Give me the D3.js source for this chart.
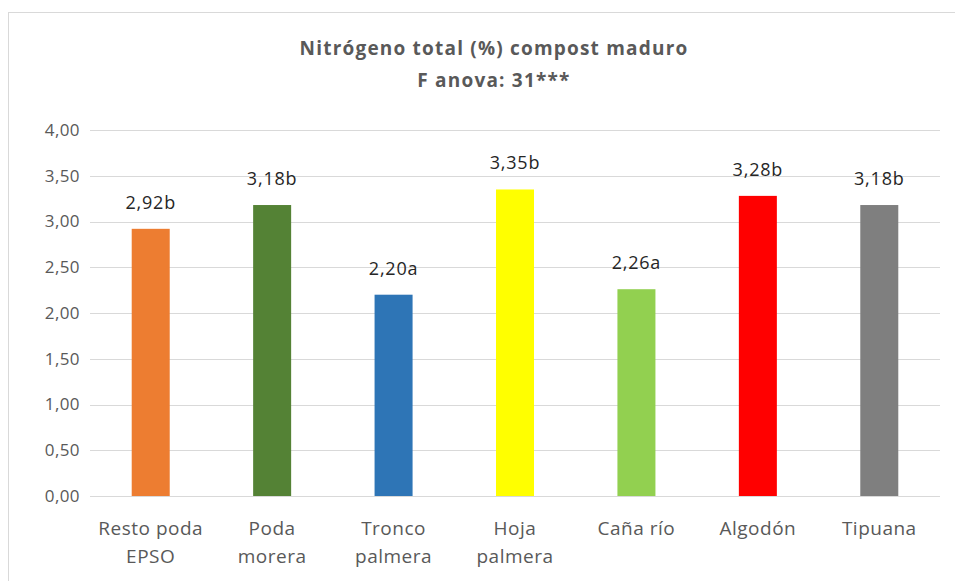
<!DOCTYPE html>
<html>
<head>
<meta charset="utf-8">
<script src="https://cdn.jsdelivr.net/npm/d3@7"></script>
<style>
  body { margin: 0; background: #fff; }
  text { font-family: "Open Sans", "Liberation Sans", sans-serif; }
</style>
</head>
<body>
<div id="chart"></div>
<script>
// data
var categories = [["Resto poda", "EPSO"], ["Poda", "morera"], ["Tronco", "palmera"], ["Hoja", "palmera"], ["Caña río"], ["Algodón"], ["Tipuana"]];
var values = [2.92, 3.18, 2.20, 3.35, 2.26, 3.28, 3.18];
var letters = ["b", "b", "a", "b", "a", "b", "b"];
var colors = ["#ED7D31", "#548235", "#2E75B6", "#FFFF00", "#92D050", "#FF0000", "#7F7F7F"];
var yTicks = [0, 0.5, 1, 1.5, 2, 2.5, 3, 3.5, 4];

var W = 955, H = 581;
var margin = {top: 130, right: 15, bottom: 85, left: 90},
    width = 940 - margin.left,
    height = 496 - margin.top;

var svg = d3.select("#chart")
  .append("svg")
    .attr("width", W)
    .attr("height", H);

// chart border
svg.append("rect")
  .attr("x", 8.5).attr("y", 12.5)
  .attr("width", 960).attr("height", 600)
  .attr("fill", "#fff")
  .attr("stroke", "#d9d9d9")
  .attr("stroke-width", 1);

// title
svg.append("text")
  .attr("x", 494).attr("y", 55)
  .attr("text-anchor", "middle")
  .attr("font-size", "19px").attr("font-weight", "bold")
  .attr("letter-spacing", "1.2px")
  .attr("fill", "#595959")
  .text("Nitrógeno total (%) compost maduro");
svg.append("text")
  .attr("x", 494).attr("y", 87)
  .attr("text-anchor", "middle")
  .attr("font-size", "19px").attr("font-weight", "bold")
  .attr("letter-spacing", "1.2px")
  .attr("fill", "#595959")
  .text("F anova:  31***");

var g = svg.append("g")
  .attr("transform", "translate(" + margin.left + "," + margin.top + ")");

var x = d3.scaleBand()
  .range([0, width])
  .domain(d3.range(values.length))
  .paddingInner(0.687)
  .paddingOuter(0.3435);

var y = d3.scaleLinear()
  .domain([0, 4])
  .range([height, 0]);

var fmt = function(v) { return d3.format(".2f")(v).replace(".", ","); };

// gridlines
g.selectAll(".grid")
  .data(yTicks)
  .enter().append("line")
    .attr("x1", 0).attr("x2", width)
    .attr("y1", function(d) { return Math.round(y(d)) + 0.5; })
    .attr("y2", function(d) { return Math.round(y(d)) + 0.5; })
    .attr("stroke", "#d9d9d9")
    .attr("stroke-width", 1);

// y axis labels
var yAxis = g.append("g")
  .call(d3.axisLeft(y).tickValues(yTicks).tickFormat(fmt).tickSize(0).tickPadding(10));
yAxis.select(".domain").remove();
yAxis.selectAll("text")
  .attr("font-size", "17px")
  .attr("letter-spacing", "0.4px")
  .attr("fill", "#595959")
  .style("font-family", "'Open Sans', sans-serif");

// bars
g.selectAll(".bar")
  .data(values)
  .enter().append("rect")
    .attr("x", function(d, i) { return x(i); })
    .attr("y", function(d) { return y(d); })
    .attr("width", x.bandwidth())
    .attr("height", function(d) { return height - y(d); })
    .attr("fill", function(d, i) { return colors[i]; });

// data labels
g.selectAll(".lbl")
  .data(values)
  .enter().append("text")
    .attr("x", function(d, i) { return x(i) + x.bandwidth() / 2; })
    .attr("y", function(d) { return y(d) - 20; })
    .attr("text-anchor", "middle")
    .attr("font-size", "18px")
    .attr("letter-spacing", "0.8px")
    .attr("fill", "#262626")
    .text(function(d, i) { return fmt(d) + letters[i]; });

// x axis baseline
g.append("line")
  .attr("x1", 0).attr("x2", width)
  .attr("y1", height + 0.5).attr("y2", height + 0.5)
  .attr("stroke", "#d9d9d9");

// category labels
var cat = g.selectAll(".cat")
  .data(categories)
  .enter().append("text")
    .attr("x", function(d, i) { return x(i) + x.bandwidth() / 2; })
    .attr("y", height + 39)
    .attr("text-anchor", "middle")
    .attr("font-size", "19px")
    .attr("letter-spacing", "0.5px")
    .attr("fill", "#595959");
cat.selectAll("tspan")
  .data(function(d) { return d; })
  .enter().append("tspan")
    .attr("x", function() { return d3.select(this.parentNode).attr("x"); })
    .attr("dy", function(d, i) { return i === 0 ? 0 : 28; })
    .text(function(d) { return d; });
</script>
</body>
</html>
